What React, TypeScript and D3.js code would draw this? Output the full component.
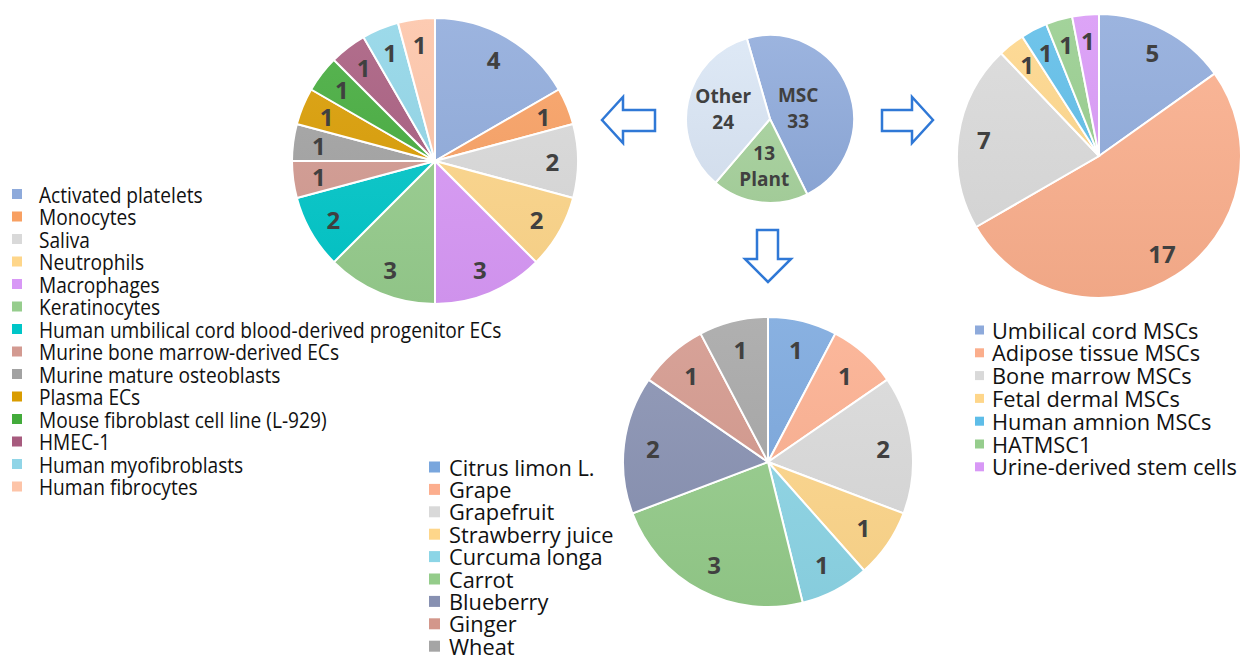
import React, { useEffect } from 'react';
import * as d3 from 'd3';

// ---------- DATA ----------
const overviewCategories = ['MSC', 'Plant', 'Other'];
const overviewValues = [33, 13, 24];
const overviewColors = ['#8eaadb', '#a9d49f', '#dae6f5'];

const otherCategories = [
  'Activated platelets', 'Monocytes', 'Saliva', 'Neutrophils', 'Macrophages', 'Keratinocytes',
  'Human umbilical cord blood-derived progenitor ECs', 'Murine bone marrow-derived ECs',
  'Murine mature osteoblasts', 'Plasma ECs', 'Mouse fibroblast cell line (L-929)', 'HMEC-1',
  'Human myofibroblasts', 'Human fibrocytes',
];
const otherValues = [4, 1, 2, 2, 3, 3, 2, 1, 1, 1, 1, 1, 1, 1];
const otherColors = [
  '#8eaadb', '#f8a062', '#d9d9d9', '#fed68a', '#d898f6', '#96cd8d', '#00c6c8', '#d39a91',
  '#a2a2a2', '#d99c00', '#43ab3b', '#a75b7e', '#90d5e7', '#fdc4a8',
];

const mscCategories = [
  'Umbilical cord MSCs', 'Adipose tissue MSCs', 'Bone marrow MSCs', 'Fetal dermal MSCs',
  'Human amnion MSCs', 'HATMSC1', 'Urine-derived stem cells',
];
const mscValues = [5, 17, 7, 1, 1, 1, 1];
const mscColors = ['#8eaadb', '#fbae8c', '#d9d9d9', '#fed68a', '#5ebde8', '#96cd8d', '#d898f6'];

const plantCategories = [
  'Citrus limon L.', 'Grape', 'Grapefruit', 'Strawberry juice', 'Curcuma longa', 'Carrot',
  'Blueberry', 'Ginger', 'Wheat',
];
const plantValues = [1, 1, 2, 1, 1, 3, 2, 1, 1];
const plantColors = ['#79a6dd', '#fcae8e', '#d9d9d9', '#fed68a', '#8cd5e6', '#94cc8a', '#8790b1', '#d3978b', '#a5a5a5'];

// ---------- COMPONENTS ----------
const LABEL_COLOR = '#404040';

function Pie({ id, cx, cy, r, values, colors, labelRatio, fontSize, startAngle = 0 }: any) {
  const pie = d3.pie<number>().sort(null).value((d) => d).startAngle(startAngle).endAngle(startAngle + 2 * Math.PI);
  const arcs = pie(values);
  const arc = d3.arc<d3.PieArcDatum<number>>().innerRadius(0).outerRadius(r);
  const labelArc = d3.arc<d3.PieArcDatum<number>>().innerRadius(r * labelRatio).outerRadius(r * labelRatio);
  return (
    <g transform={`translate(${cx},${cy})`}>
      <defs>
        {colors.map((c: string, i: number) => (
          <linearGradient key={i} id={`${id}-g${i}`} gradientUnits="userSpaceOnUse" x1={0} y1={-r} x2={0} y2={r}>
            <stop offset="0" stopColor={d3.interpolateRgb(c, '#ffffff')(0.12)} />
            <stop offset="1" stopColor={d3.color(c)!.darker(0.12).formatHex()} />
          </linearGradient>
        ))}
      </defs>
      {arcs.map((a, i) => (
        <path key={i} d={arc(a) || ''} fill={`url(#${id}-g${i})`} stroke="#ffffff" strokeWidth={2} />
      ))}
      {arcs.map((a, i) => {
        const [x, y] = labelArc.centroid(a);
        return (
          <text key={`t${i}`} x={x} y={y} textAnchor="middle" dominantBaseline="central"
            fontFamily="'Open Sans', sans-serif" fontWeight={700} fontSize={fontSize} fill={LABEL_COLOR}>
            {values[i]}
          </text>
        );
      })}
    </g>
  );
}

function Legend({ x, y, step, items, colors, fontSize, squareSize, textDx, scaleX }: any) {
  return (
    <g transform={`translate(${x},${y})`}>
      {items.map((t: string, i: number) => (
        <g key={i} transform={`translate(0,${i * step})`}>
          <rect x={0} y={-squareSize / 2} width={squareSize} height={squareSize} fill={colors[i]} />
          <text transform={`translate(${textDx},0) scale(${scaleX},1)`} dominantBaseline="central"
            fontFamily="'Open Sans', sans-serif" fontSize={fontSize} fill="#111111">
            {t}
          </text>
        </g>
      ))}
    </g>
  );
}

export default function App() {
  useEffect(() => {
    document.body.style.margin = '0';
  }, []);

  const ov = d3.pie<number>().sort(null).value((d) => d).startAngle(-0.28).endAngle(-0.28 + 2 * Math.PI)(overviewValues);
  const ovR = 84;
  const ovArc = d3.arc<d3.PieArcDatum<number>>().innerRadius(0).outerRadius(ovR);
  const ovLabelRatio = [0.36, 0.56, 0.57];

  const stroke = '#2f78d6';

  return (
    <svg width={1248} height={657} style={{ display: 'block', background: '#ffffff' }}>
      {/* Overview pie */}
      <g transform="translate(770,119)">
        <defs>
          {overviewColors.map((c, i) => (
            <linearGradient key={i} id={`ov-g${i}`} gradientUnits="userSpaceOnUse" x1={0} y1={-ovR} x2={0} y2={ovR}>
              <stop offset="0" stopColor={d3.interpolateRgb(c, '#ffffff')(0.12)} />
              <stop offset="1" stopColor={d3.color(c)!.darker(0.12).formatHex()} />
            </linearGradient>
          ))}
        </defs>
        {ov.map((a, i) => (
          <path key={i} d={ovArc(a) || ''} fill={`url(#ov-g${i})`} stroke="#ffffff" strokeWidth={2} />
        ))}
        {ov.map((a, i) => {
          const la = d3.arc<d3.PieArcDatum<number>>().innerRadius(ovR * ovLabelRatio[i]).outerRadius(ovR * ovLabelRatio[i]);
          const [x, y] = la.centroid(a);
          const name = overviewCategories[i];
          const val = String(overviewValues[i]);
          const lines = name === 'Plant' ? [val, name] : [name, val];
          return (
            <text key={`t${i}`} x={x} textAnchor="middle" fontFamily="'Open Sans', sans-serif" fontWeight={700}
              fontSize={19} fill={LABEL_COLOR}>
              <tspan x={x} y={y - 6}>{lines[0]}</tspan>
              <tspan x={x} y={y + 20}>{lines[1]}</tspan>
            </text>
          );
        })}
      </g>

      {/* Arrows */}
      <path d="M602,120 L623,97 L623,110 L655,110 L655,131 L623,131 L623,143 Z" fill="#ffffff" stroke={stroke} strokeWidth={2.5} strokeLinejoin="miter" />
      <path d="M933,120 L912,97 L912,110 L882,110 L882,131 L912,131 L912,143 Z" fill="#ffffff" stroke={stroke} strokeWidth={2.5} strokeLinejoin="miter" />
      <path d="M768,282 L745,259 L757,259 L757,230 L778,230 L778,259 L791,259 Z" fill="#ffffff" stroke={stroke} strokeWidth={2.5} strokeLinejoin="miter" />

      <Pie id="other" cx={435} cy={161} r={143} values={otherValues} colors={otherColors} labelRatio={0.82} fontSize={24} />
      <Pie id="msc" cx={1099} cy={156} r={142} values={mscValues} colors={mscColors} labelRatio={0.82} fontSize={24} />
      <Pie id="plant" cx={768} cy={462} r={145} values={plantValues} colors={plantColors} labelRatio={0.8} fontSize={24} />

      <Legend x={12} y={194} step={22.5} items={otherCategories} colors={otherColors} fontSize={22} squareSize={10} textDx={27} scaleX={0.87} />
      <Legend x={975} y={330} step={22.8} items={mscCategories} colors={mscColors} fontSize={22} squareSize={9} textDx={17} scaleX={0.99} />
      <Legend x={429} y={467} step={22.4} items={plantCategories} colors={plantColors} fontSize={22} squareSize={11} textDx={20} scaleX={0.99} />
    </svg>
  );
}
